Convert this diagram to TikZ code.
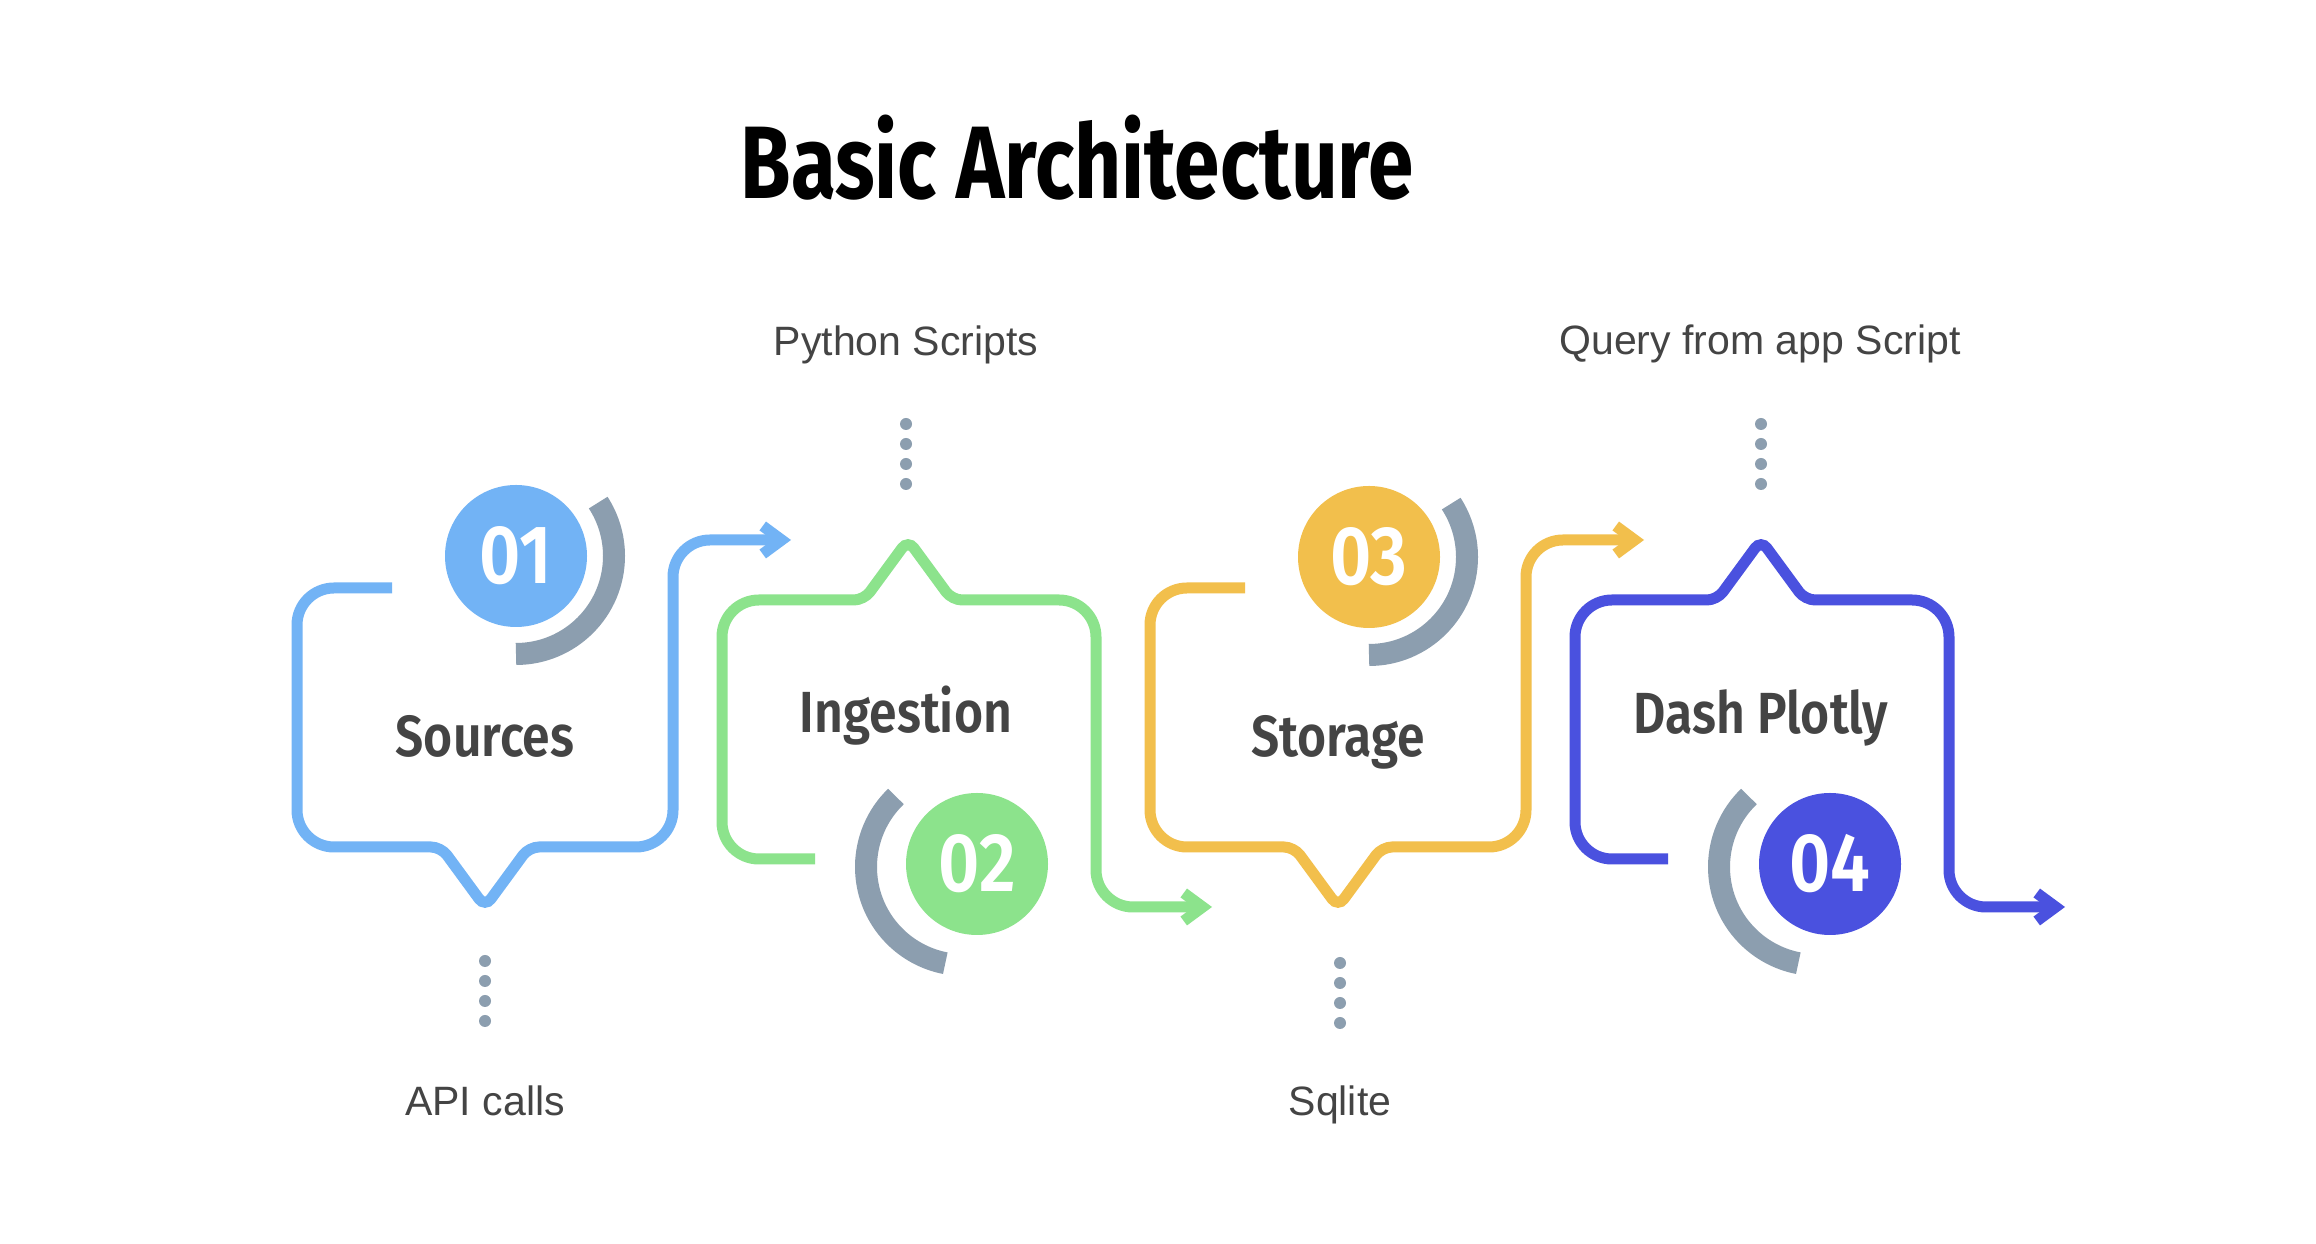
\documentclass[tikz,border=0pt]{standalone}
\usepackage{fontspec}
\usetikzlibrary{arrows.meta}
\setmainfont{Liberation Sans}
\newfontfamily\headfont{Fira Sans}[FakeStretch=0.795]
\newfontfamily\stepfont{Fira Sans}[FakeStretch=0.86, BoldFont={* SemiBold}]
\definecolor{cblue}{HTML}{72B3F5}
\definecolor{cgreen}{HTML}{8CE38C}
\definecolor{corange}{HTML}{F2BF4C}
\definecolor{cindigo}{HTML}{4A51DF}
\definecolor{cgrey}{HTML}{8C9EAF}
\definecolor{ctext}{HTML}{444444}
\begin{document}
\begin{tikzpicture}[x=1pt, y=1pt,
  flow/.style={line width=11pt, -{Straight Barb[length=19pt,width=28pt]}},
  ring/.style={cgrey, line width=22pt},
  dotcol/.style={cgrey, line width=12pt, line cap=round, dash pattern=on 0pt off 20pt},
  badge/.style={circle, minimum size=142pt, inner sep=0pt, text=white, font=\stepfont\bfseries\fontsize{83}{90}\selectfont},
  steplabel/.style={anchor=base, text=ctext, font=\stepfont\bfseries\fontsize{58}{64}\selectfont},
  note/.style={anchor=base, text=ctext, font=\fontsize{41}{47}\selectfont}]

\fill[white] (0,0) rectangle (2316,1244);
\useasboundingbox (0,0) rectangle (2316,1244);

\node[anchor=base, font=\headfont\bfseries\fontsize{103}{110}\selectfont] (title) at (1077,1045) {Basic Architecture};

\draw[flow, cblue] (392,656) [rounded corners=37pt] -- (297,656) -- (297,397) [rounded corners=10pt] -- (441,397) -- (485,337) -- (529,397) [rounded corners=37pt] -- (673,397) -- (673,704) -- (791,704);
\draw[flow, cgreen] (815,385) [rounded corners=37pt] -- (722,385) -- (722,644) [rounded corners=10pt] -- (864,644) -- (908,704) -- (952,644) [rounded corners=37pt] -- (1096,644) -- (1096,337) -- (1212,337);
\draw[flow, corange] (1245,656) [rounded corners=37pt] -- (1150,656) -- (1150,397) [rounded corners=10pt] -- (1294,397) -- (1338,337) -- (1382,397) [rounded corners=37pt] -- (1526,397) -- (1526,704) -- (1644,704);
\draw[flow, cindigo] (1668,385) [rounded corners=37pt] -- (1575,385) -- (1575,644) [rounded corners=10pt] -- (1717,644) -- (1761,704) -- (1805,644) [rounded corners=37pt] -- (1949,644) -- (1949,337) -- (2065,337);

\node[badge, fill=cblue] (b1) at (516,688) {01};
\node[badge, fill=cgreen] (b2) at (977,380) {02};
\node[badge, fill=corange] (b3) at (1369,687) {03};
\node[badge, fill=cindigo] (b4) at (1830,380) {04};

\coordinate (r2) at (964,377);
\coordinate (r4) at (1817,377);
\draw[ring] ([shift={(-90:98pt)}]b1.center) arc[start angle=-90, end angle=33, radius=98pt];
\draw[ring] ([shift={(134:98pt)}]r2) arc[start angle=134, end angle=259, radius=98pt];
\draw[ring] ([shift={(-90:98pt)}]b3.center) arc[start angle=-90, end angle=33, radius=98pt];
\draw[ring] ([shift={(134:98pt)}]r4) arc[start angle=134, end angle=259, radius=98pt];

\node[steplabel] (s1) at (485,487) {Sources};
\node[steplabel] (s2) at (906,511) {Ingestion};
\node[steplabel] (s3) at (1338,487) {Storage};
\node[steplabel] (s4) at (1761,510) {Dash Plotly};

\node[note] (l1) at (485,128) {API calls};
\node[note] (l2) at (906,888) {Python Scripts};
\node[note] (l3) at (1340,128) {Sqlite};
\node[note] (l4) at (1760,889) {Query from app Script};

\coordinate (d1a) at (485,283);
\coordinate (d1b) at (485,222);
\coordinate (d2a) at (906,820);
\coordinate (d2b) at (906,759);
\coordinate (d3a) at (1340,281);
\coordinate (d3b) at (1340,220);
\coordinate (d4a) at (1761,820);
\coordinate (d4b) at (1761,759);
\draw[dotcol] (d1a) -- (d1b);
\draw[dotcol] (d2a) -- (d2b);
\draw[dotcol] (d3a) -- (d3b);
\draw[dotcol] (d4a) -- (d4b);

\end{tikzpicture}
\end{document}
